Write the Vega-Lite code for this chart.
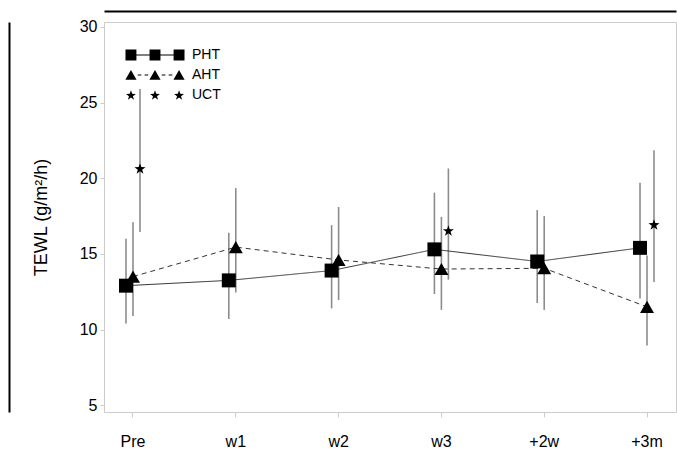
{
  "$schema": "https://vega.github.io/schema/vega-lite/v6.json",
  "width": 572,
  "height": 390,
  "autosize": "none",
  "padding": {"left": 104, "top": 22, "right": 1, "bottom": 45},
  "background": "white",
  "config": {"font": "Liberation Sans", "view": {"stroke": "#cccccc", "strokeWidth": 1}},
  "data": {"values": [
    {"t": "Pre", "g": "PHT", "m": 12.9, "lo": 10.4, "hi": 16.0},
    {"t": "w1", "g": "PHT", "m": 13.25, "lo": 10.7, "hi": 16.4},
    {"t": "w2", "g": "PHT", "m": 13.9, "lo": 11.4, "hi": 16.9},
    {"t": "w3", "g": "PHT", "m": 15.3, "lo": 12.35, "hi": 19.05},
    {"t": "+2w", "g": "PHT", "m": 14.5, "lo": 11.75, "hi": 17.9},
    {"t": "+3m", "g": "PHT", "m": 15.4, "lo": 12.05, "hi": 19.7},
    {"t": "Pre", "g": "AHT", "m": 13.5, "lo": 10.9, "hi": 17.1},
    {"t": "w1", "g": "AHT", "m": 15.45, "lo": 12.45, "hi": 19.35},
    {"t": "w2", "g": "AHT", "m": 14.6, "lo": 11.95, "hi": 18.1},
    {"t": "w3", "g": "AHT", "m": 14.0, "lo": 11.3, "hi": 17.45},
    {"t": "+2w", "g": "AHT", "m": 14.05, "lo": 11.3, "hi": 17.5},
    {"t": "+3m", "g": "AHT", "m": 11.5, "lo": 8.95, "hi": 14.9},
    {"t": "Pre", "g": "UCT", "m": 20.65, "lo": 16.45, "hi": 25.9},
    {"t": "w3", "g": "UCT", "m": 16.55, "lo": 13.3, "hi": 20.65},
    {"t": "+3m", "g": "UCT", "m": 16.95, "lo": 13.15, "hi": 21.85}
  ]},
  "layer": [
    {
      "mark": {"type": "rule", "color": "#8c8c8c", "strokeWidth": 1.6},
      "encoding": {
        "x": {"field": "t", "type": "nominal", "sort": ["Pre", "w1", "w2", "w3", "+2w", "+3m"],
          "scale": {"type": "band", "paddingInner": 0.796, "paddingOuter": 0.18},
          "axis": {"title": null, "labelAngle": 0, "domain": false, "tickColor": "#cccccc", "tickSize": 5, "labelFontSize": 16, "labelColor": "black", "labelPadding": 16, "grid": false}},
        "xOffset": {"field": "g", "type": "nominal", "scale": {"type": "point", "padding": 0.5, "domain": ["PHT", "AHT", "UCT"]}},
        "y": {"field": "lo", "type": "quantitative", "scale": {"domain": [4.55, 30.33], "nice": false, "zero": false},
          "axis": {"values": [5, 10, 15, 20, 25, 30], "domain": false, "grid": false, "tickColor": "#cccccc", "tickSize": 4, "labelFontSize": 16, "labelColor": "black", "labelPadding": 3, "title": "TEWL (g/m²/h)", "titleFontSize": 18, "titleFontWeight": "normal", "titleColor": "black", "titlePadding": 29}},
        "y2": {"field": "hi"}
      }
    },
    {
      "transform": [{"filter": "datum.g !== 'UCT'"}],
      "mark": {"type": "line", "color": "#333333", "strokeWidth": 1},
      "encoding": {
        "x": {"field": "t", "type": "nominal", "sort": ["Pre", "w1", "w2", "w3", "+2w", "+3m"], "axis": null},
        "xOffset": {"field": "g", "type": "nominal"},
        "y": {"field": "m", "type": "quantitative", "axis": null},
        "strokeDash": {"field": "g", "type": "nominal", "scale": {"domain": ["PHT", "AHT"], "range": [[1, 0], [5, 4]]}, "legend": null},
        "order": {"value": null}
      }
    },
    {
      "mark": {"type": "point", "filled": true, "color": "black", "opacity": 1, "strokeWidth": 0, "size": 195},
      "encoding": {
        "x": {"field": "t", "type": "nominal", "sort": ["Pre", "w1", "w2", "w3", "+2w", "+3m"], "axis": null},
        "xOffset": {"field": "g", "type": "nominal"},
        "y": {"field": "m", "type": "quantitative", "axis": null},
        "shape": {"field": "g", "type": "nominal",
          "scale": {"domain": ["PHT", "AHT", "UCT"], "range": ["square", "triangle-up", "M0,-0.751L0.195,-0.19L0.789,-0.178L0.315,0.182L0.488,0.75L0,0.411L-0.488,0.75L-0.315,0.182L-0.789,-0.178L-0.195,-0.19Z"]},
          "legend": null}
      }
    },
    {
      "transform": [{"filter": "false"}],
      "mark": {"type": "point", "filled": true, "color": "black", "opacity": 1, "strokeWidth": 0},
      "encoding": {
        "shape": {"field": "g", "type": "nominal",
          "scale": {"domain": ["PHT", "AHT", "UCT"], "range": [
            "M-2.35,0M2.35,0M-2.27,-0.42H-1.43V0.42H-2.27ZM-0.42,-0.42H0.42V0.42H-0.42ZM1.43,-0.42H2.27V0.42H1.43ZM-1.85,-0.04H1.85V0.04H-1.85Z",
            "M-2.35,0M2.35,0M-2.28,0.37L-1.85,-0.38L-1.42,0.37ZM-0.43,0.37L0,-0.38L0.43,0.37ZM1.42,0.37L1.85,-0.38L2.28,0.37ZM-1.33,-0.04H-1.05V0.04H-1.33ZM-0.8,-0.04H-0.52V0.04H-0.8ZM0.52,-0.04H0.8V0.04H0.52ZM1.05,-0.04H1.33V0.04H1.05Z",
            "M-2.35,0M2.35,0M-1.85,-0.362L-1.756,-0.092L-1.47,-0.086L-1.698,0.088L-1.615,0.362L-1.85,0.198L-2.085,0.362L-2.002,0.088L-2.23,-0.086L-1.944,-0.092ZM0,-0.362L0.094,-0.092L0.38,-0.086L0.152,0.088L0.235,0.362L0,0.198L-0.235,0.362L-0.152,0.088L-0.38,-0.086L-0.094,-0.092ZM1.85,-0.362L1.944,-0.092L2.23,-0.086L2.002,0.088L2.085,0.362L1.85,0.198L1.615,0.362L1.698,0.088L1.47,-0.086L1.756,-0.092Z"
          ]},
          "legend": {
            "title": null, "orient": "none", "legendX": 38, "legendY": 20, "padding": 0,
            "symbolSize": 676, "symbolFillColor": "black", "symbolStrokeWidth": 0, "symbolStrokeColor": "black", "symbolOpacity": 1,
            "labelFontSize": 14, "labelColor": "black", "labelOffset": 24, "rowPadding": -4.5
          }}
      }
    },
    {
      "mark": {"type": "rule", "opacity": 0},
      "encoding": {
        "x": {"field": "t", "type": "nominal", "sort": ["Pre", "w1", "w2", "w3", "+2w", "+3m"],
          "axis": {"orient": "top", "offset": 11, "domainColor": "black", "domainWidth": 2, "ticks": false, "labels": false, "title": null, "grid": false}},
        "y": {"field": "m", "type": "quantitative",
          "axis": {"orient": "left", "offset": 95, "domainColor": "black", "domainWidth": 2, "ticks": false, "labels": false, "title": null, "grid": false}}
      }
    }
  ],
  "resolve": {"axis": {"x": "independent", "y": "independent"}, "scale": {"shape": "independent"}, "legend": {"shape": "independent"}}
}
